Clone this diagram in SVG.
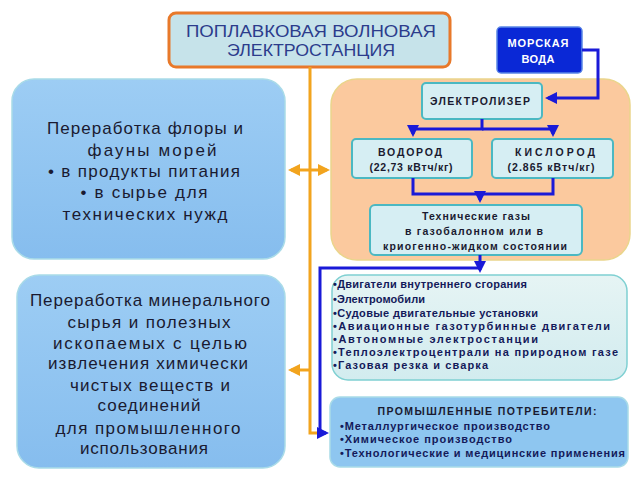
<svg xmlns="http://www.w3.org/2000/svg" width="640" height="479" viewBox="0 0 640 479">
<defs>
<style>
.t{font-family:"Liberation Sans",Arial,sans-serif;}
.title{font-size:17px;fill:#2c3c8c;text-anchor:middle;}
.big{font-size:17px;fill:#1a1a30;text-anchor:middle;}
.sm{font-size:10.5px;font-weight:bold;fill:#1a1a30;text-anchor:middle;}
.lst{font-size:11px;font-weight:bold;fill:#141a5a;}
.wh{font-size:11px;font-weight:bold;fill:#ffffff;text-anchor:middle;}
.bl{fill:none;stroke:#1a1ad8;stroke-width:3;}
.or{fill:none;stroke:#f2a41e;stroke-width:3;}
.cy{fill:#d6eef3;stroke:#4bb8c2;stroke-width:2;}
</style>
<linearGradient id="gb" x1="0" y1="0" x2="0" y2="1"><stop offset="0" stop-color="#9dcdf4"/><stop offset="1" stop-color="#86bdee"/></linearGradient>
<linearGradient id="gl" x1="0" y1="0" x2="0" y2="1"><stop offset="0" stop-color="#e6f4f4"/><stop offset="1" stop-color="#d2ecef"/></linearGradient>
<marker id="ab" markerWidth="4" markerHeight="4" refX="3" refY="2" orient="auto" markerUnits="strokeWidth"><path d="M0,0 L4,2 L0,4 Z" fill="#1a1ad8"/></marker>
<marker id="ao" markerWidth="4" markerHeight="4" refX="3" refY="2" orient="auto" markerUnits="strokeWidth"><path d="M0,0 L4,2 L0,4 Z" fill="#f2a41e"/></marker>
</defs>
<rect width="640" height="479" fill="#ffffff"/>

<g id="title">
<rect x="169" y="13" width="281" height="54" rx="7" fill="#c6e3ea" stroke="#e8792a" stroke-width="3"/>
<text class="t title" x="311" y="37" textLength="250" lengthAdjust="spacingAndGlyphs">ПОПЛАВКОВАЯ ВОЛНОВАЯ</text>
<text class="t title" x="311" y="56" textLength="168" lengthAdjust="spacingAndGlyphs">ЭЛЕКТРОСТАНЦИЯ</text>
</g>

<g id="flora">
<rect x="12" y="79" width="273" height="180" rx="22" fill="url(#gb)" stroke="#a9dbe8" stroke-width="1.5"/>
<text class="t big" x="145" y="134" textLength="196">Переработка флоры и</text>
<text class="t big" x="152" y="156" textLength="129">фауны морей</text>
<text class="t big" x="144" y="177" textLength="192">• в продукты питания</text>
<text class="t big" x="144" y="198" textLength="127">• в сырье для</text>
<text class="t big" x="145" y="220" textLength="165">технических нужд</text>
</g>

<g id="mineral">
<rect x="17" y="275" width="268" height="193" rx="22" fill="url(#gb)" stroke="#a9dbe8" stroke-width="1.5"/>
<text class="t big" x="150" y="306" textLength="240">Переработка минерального</text>
<text class="t big" x="149" y="328" textLength="163">сырья и полезных</text>
<text class="t big" x="150" y="349" textLength="194">ископаемых с целью</text>
<text class="t big" x="148" y="369" textLength="200">извлечения химически</text>
<text class="t big" x="150" y="391" textLength="160">чистых веществ и</text>
<text class="t big" x="149" y="411" textLength="103">соединений</text>
<text class="t big" x="148" y="434" textLength="185">для промышленного</text>
<text class="t big" x="144" y="454" textLength="128">использования</text>
</g>

<g id="plant">
<rect x="331" y="79" width="299" height="181" rx="26" fill="#fbc99e" stroke="#ead58c" stroke-width="1.5"/>
</g>

<g id="seawater">
<rect x="497" y="27" width="85" height="46" rx="4" fill="#0a28d6" stroke="#5a86e6" stroke-width="1.5"/>
<text class="t wh" x="538" y="47" textLength="61">МОРСКАЯ</text>
<text class="t wh" x="538" y="63" textLength="33">ВОДА</text>
</g>

<g id="electrolyzer">
<rect class="cy" x="422" y="83" width="120" height="36" rx="4"/>
<text class="t sm" x="480" y="105" textLength="100">ЭЛЕКТРОЛИЗЕР</text>
</g>

<g id="hydrogen">
<rect class="cy" x="352" y="139" width="120" height="39" rx="4"/>
<text class="t sm" x="410" y="156" textLength="64">ВОДОРОД</text>
<text class="t sm" x="411" y="171" textLength="83">(22,73 кВтч/кг)</text>
</g>

<g id="oxygen">
<rect class="cy" x="492" y="139" width="121" height="39" rx="4"/>
<text class="t sm" x="555" y="156" textLength="80">КИСЛОРОД</text>
<text class="t sm" x="551" y="171" textLength="87">(2.865 кВтч/кг)</text>
</g>

<g id="gases">
<rect class="cy" x="370" y="205" width="212" height="50" rx="5"/>
<text class="t sm" x="476" y="220" textLength="108">Технические газы</text>
<text class="t sm" x="474" y="235" textLength="138">в газобалонном или в</text>
<text class="t sm" x="475" y="250" textLength="184">криогенно-жидком состоянии</text>
</g>

<g id="uses">
<rect x="332" y="275" width="295" height="105" rx="16" fill="url(#gl)" stroke="#7fd0d2" stroke-width="1.5"/>
<text class="t lst" x="333" y="288" textLength="194">•Двигатели внутреннего сгорания</text>
<text class="t lst" x="333" y="303" textLength="92">•Электромобили</text>
<text class="t lst" x="333" y="317" textLength="205">•Судовые двигательные установки</text>
<text class="t lst" x="333" y="330" textLength="277">•Авиационные газотурбинные двигатели</text>
<text class="t lst" x="333" y="343" textLength="205">•Автономные электростанции</text>
<text class="t lst" x="333" y="356" textLength="285">•Теплоэлектроцентрали на природном газе</text>
<text class="t lst" x="333" y="369" textLength="155">•Газовая резка и сварка</text>
</g>

<g id="industry">
<rect x="330" y="397" width="298" height="70" rx="10" fill="#8ec6f0" stroke="#a9dbe8" stroke-width="1.5"/>
<text class="t sm" x="487" y="415" fill="#141a5a" textLength="219">ПРОМЫШЛЕННЫЕ ПОТРЕБИТЕЛИ:</text>
<text class="t lst" x="340" y="430" textLength="210">•Металлургическое производство</text>
<text class="t lst" x="340" y="443" textLength="172">•Химическое производство</text>
<text class="t lst" x="340" y="457" textLength="285">•Технологические и медицинские применения</text>
</g>

<g id="connectors">
<path class="or" d="M310,67 V433 H320"/>
<path class="or" d="M310,170 H291" marker-end="url(#ao)"/>
<path class="or" d="M310,170 H327" marker-end="url(#ao)"/>
<path class="or" d="M310,370 H291" marker-end="url(#ao)"/>
<path class="bl" d="M582,50 H598 V98 H548" marker-end="url(#ab)"/>
<path class="bl" d="M482,119 V129 H413 V134" marker-end="url(#ab)"/>
<path class="bl" d="M482,129 H553 V134" marker-end="url(#ab)"/>
<path class="bl" d="M413,178 V194 H553 V178"/>
<path class="bl" d="M480,194 V200" marker-end="url(#ab)"/>
<path class="bl" d="M480,255 V270" marker-end="url(#ab)"/>
<path class="bl" d="M480,268 H320 V433 H326" marker-end="url(#ab)"/>
</g>
</svg>
